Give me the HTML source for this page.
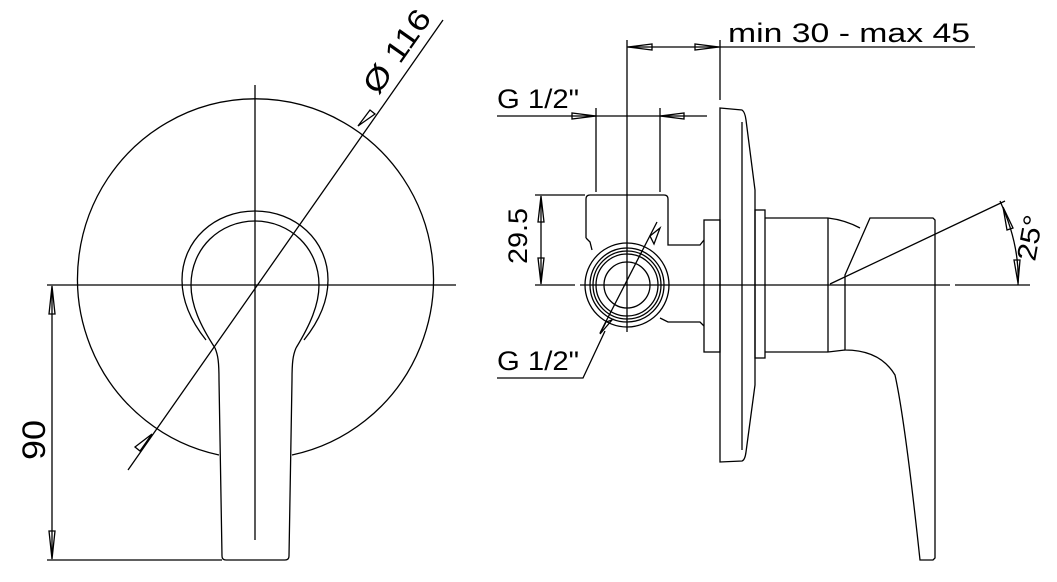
<!DOCTYPE html>
<html><head><meta charset="utf-8"><style>
html,body{margin:0;padding:0;background:#fff}
svg{display:block}
text{font-family:"Liberation Sans",sans-serif;font-size:27px;fill:#000;font-weight:300}
</style></head><body>
<svg width="1057" height="582" viewBox="0 0 1057 582" xmlns="http://www.w3.org/2000/svg">
<g fill="none" stroke="#000" stroke-width="1.3">
<!-- LEFT VIEW -->
<path d="M219,455 A178,180 0 1 1 292,455"/>
<line x1="255" y1="85" x2="255" y2="540"/>
<line x1="47" y1="285" x2="456" y2="285"/>
<line x1="443" y1="20" x2="128" y2="470"/>
<path d="M206,340 C190,320 182,300 182,280 C182,240 215,211 255,211 C295,211 328,240 328,280 C328,300 320,320 304,340"/>
<path d="M215,348 C200,325 191,305 191,285 C191,248 220,221 255,221 C290,221 319,248 319,285 C319,305 310,325 296,348"/>
<path d="M215,348 C218,355 219,362 219,380 L222,556 Q222,560 226,560 L285,560 Q289,560 289,556 L292,380 C292,362 293,355 296,348"/>
<line x1="52" y1="290" x2="52" y2="556"/>
<path d="M52,286 L49,314 L55,314 Z"/>
<path d="M52,559 L49,531 L55,531 Z"/>
<line x1="47" y1="560" x2="222" y2="560"/>
<path d="M358,126 L370,110 L375,114 Z"/>
<path d="M152,434 L140,451 L135,447 Z"/>
<!-- RIGHT VIEW -->
<line x1="720" y1="47" x2="975" y2="47"/>
<line x1="627" y1="47" x2="720" y2="47"/>
<path d="M628,47 L652,44 L652,50 Z"/>
<path d="M719,47 L695,44 L695,50 Z"/>
<line x1="627" y1="40" x2="627" y2="332"/>
<line x1="720" y1="40" x2="720" y2="100"/>
<line x1="497" y1="116" x2="707" y2="116"/>
<path d="M596,116 L572,113 L572,119 Z"/>
<path d="M660,116 L684,113 L684,119 Z"/>
<line x1="596" y1="108" x2="596" y2="192"/>
<line x1="660" y1="108" x2="660" y2="192"/>
<!-- fitting -->
<path d="M590,195 L664,195 Q668,195 668,199 L668,245 L700,245 L704,240"/>
<path d="M586,238 L586,199 Q586,195 590,195"/>
<path d="M586,238 L590,242 L592,250"/>
<path d="M660,318 L668,322 L700,322 L704,326"/>
<circle cx="627" cy="285" r="42"/>
<circle cx="627" cy="285" r="37"/>
<circle cx="627" cy="285" r="34"/>
<circle cx="627" cy="285" r="31"/>
<circle cx="627" cy="285" r="23"/>
<line x1="535" y1="195" x2="585" y2="195"/>
<line x1="541" y1="199" x2="541" y2="281"/>
<path d="M541,196 L538,222 L544,222 Z"/>
<path d="M541,284 L538,258 L544,258 Z"/>
<line x1="535" y1="285" x2="575" y2="285"/>
<line x1="580" y1="285" x2="950" y2="285"/>
<line x1="955" y1="285" x2="1030" y2="285"/>
<line x1="657" y1="222" x2="600" y2="333"/>
<path d="M650,236 L660,228 L654,244 Z" />
<path d="M606,322 L600,334 L612,320 Z"/>
<polyline points="497,378 583,378 605,331"/>
<!-- plate -->
<rect x="704" y="220" width="16" height="132"/>
<path d="M720,108 L742,110 Q745,112 746,120 L755,190 L755,385 L746,452 Q745,460 742,461 L720,462 Z"/>
<line x1="742" y1="122" x2="742" y2="450"/>
<rect x="755" y="210" width="10" height="148"/>
<line x1="765" y1="218" x2="828" y2="218"/>
<line x1="765" y1="352" x2="828" y2="352"/>
<line x1="828" y1="218" x2="828" y2="352"/>
<path d="M828,218 Q845,220 860,228"/>
<path d="M828,352 L845,350"/>
<!-- lever -->
<path d="M870,218 L933,218 L935,220 L935,558 L933,560 L920,560 Q905,420 895,375 Q880,350 845,350 L845,275 Z"/>
<line x1="830" y1="284" x2="1005" y2="201"/>
<path d="M1000,201 Q1020,245 1018,285"/>
<path d="M1003,207 L1007,230 L1013,228 Z"/>
<path d="M1018,283 L1014,260 L1020,260 Z"/>
</g>
<text x="728" y="42" textLength="242" lengthAdjust="spacingAndGlyphs">min 30 - max 45</text>
<text x="497" y="108" textLength="82" lengthAdjust="spacingAndGlyphs">G 1/2"</text>
<text x="497" y="370" textLength="82" lengthAdjust="spacingAndGlyphs">G 1/2"</text>
<text transform="translate(527,264) rotate(-90)" textLength="56" lengthAdjust="spacingAndGlyphs">29.5</text>
<text transform="translate(45,460) rotate(-90)" textLength="40" lengthAdjust="spacingAndGlyphs" style="font-size:32px">90</text>
<text transform="translate(378,96) rotate(-55)" textLength="95" lengthAdjust="spacingAndGlyphs" style="font-size:30px">Ø 116</text>
<text transform="translate(1035,262) rotate(-80)" textLength="46" lengthAdjust="spacingAndGlyphs">25°</text>
</svg>
</body></html>
